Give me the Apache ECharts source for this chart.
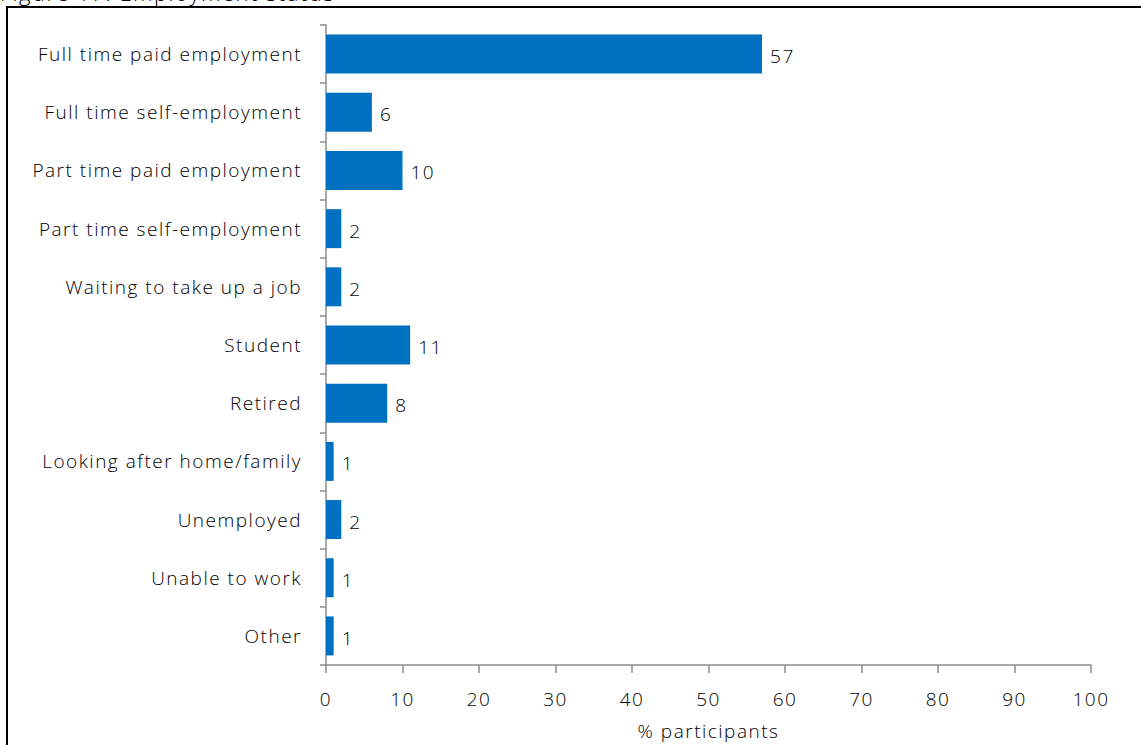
<!DOCTYPE html>
<html><head><meta charset="utf-8">
<script src="https://cdn.jsdelivr.net/npm/echarts@6/dist/echarts.min.js"></script>
<style>html,body{margin:0;padding:0;background:#fff}#c{width:1141px;height:745px}
#c svg text{letter-spacing:1.5px}</style>
</head><body><div id="c"></div>
<script>
const categories = ["Full time paid employment","Full time self-employment","Part time paid employment","Part time self-employment","Waiting to take up a job","Student","Retired","Looking after home/family","Unemployed","Unable to work","Other"];
const values = [57,6,10,2,2,11,8,1,2,1,1];
const xTicks = [0,10,20,30,40,50,60,70,80,90,100];
const titleText = "Figure 17: Employment status";
const xName = "% participants";

const font = "'Open Sans', sans-serif";
const txt = '#000';
const chart = echarts.init(document.getElementById('c'), null, {renderer:'svg'});
chart.setOption({
  animation:false,
  backgroundColor:'#fff',
  graphic:[
    {type:'rect', shape:{x:7,y:7,width:1200,height:800}, style:{fill:'none',stroke:'#000',lineWidth:2}},
    {type:'text', left:0, top:-19, style:{text:titleText, font:"300 22px "+font, fill:'#000'}}
  ],
  grid:{left:326, right:50, top:25, bottom:80, containLabel:false},
  xAxis:{type:'value', min:xTicks[0], max:xTicks[xTicks.length-1], interval:10,
    name:xName, nameLocation:'middle', nameGap:56,
    nameTextStyle:{fontFamily:font, fontWeight:300, fontSize:19, color:txt},
    axisLine:{show:true, lineStyle:{color:'#8c8c8c', width:1.5}},
    axisTick:{show:true, length:8, lineStyle:{color:'#8c8c8c', width:1.5}},
    axisLabel:{fontFamily:font, fontWeight:300, fontSize:19, color:txt, margin:24},
    splitLine:{show:false}},
  yAxis:{type:'category', data:categories, inverse:true,
    axisLine:{show:true, lineStyle:{color:'#8c8c8c', width:1.5}},
    axisTick:{show:true, length:6, lineStyle:{color:'#8c8c8c', width:1.5}},
    axisLabel:{fontFamily:font, fontWeight:300, fontSize:19, color:txt, margin:24}},
  series:[{type:'bar', data:values, barCategoryGap:'33%',
    itemStyle:{color:'#0070C0'},
    label:{show:true, position:'right', distance:8, fontFamily:font, fontWeight:300, fontSize:19, color:txt, offset:[0,2]}}]
});
</script></body></html>
